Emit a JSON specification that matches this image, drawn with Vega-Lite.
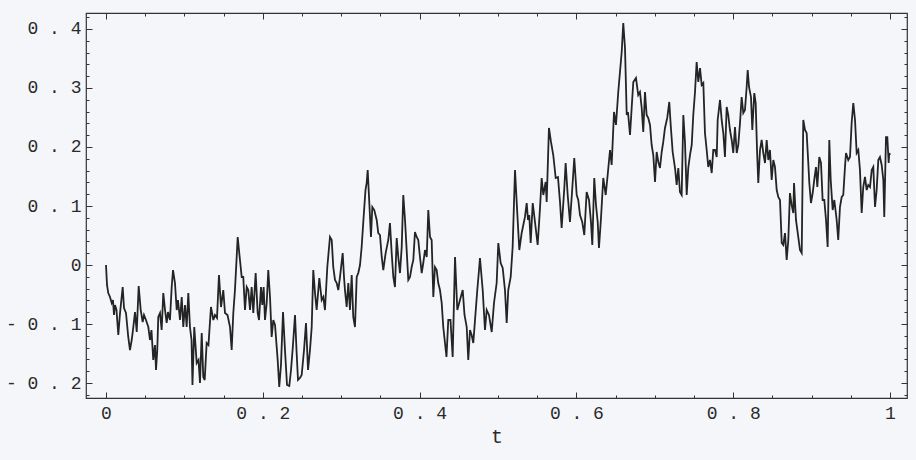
{
  "$schema": "https://vega.github.io/schema/vega-lite/v6.json",
  "width": 821,
  "height": 385,
  "autosize": {"type": "none"},
  "padding": {"left": 86, "top": 13, "right": 9, "bottom": 62},
  "background": "#f4f6f9",
  "config": {"view": {"stroke": "#333333", "strokeWidth": 1.2}, "axis": {"domain": false, "grid": false, "tickColor": "#333333", "tickWidth": 1, "labelFlush": false, "labelOverlap": false}},
  "data": {"values": [
{"t":0,"v":0},{"t":0.0013,"v":-0.0339},{"t":0.0029,"v":-0.0475},{"t":0.0051,"v":-0.0542},{"t":0.0073,"v":-0.0644},{"t":0.0089,"v":-0.0593},{"t":0.0102,"v":-0.0847},{"t":0.0115,"v":-0.0678},{"t":0.0134,"v":-0.0763},{"t":0.0157,"v":-0.1186},{"t":0.0179,"v":-0.0814},{"t":0.0213,"v":-0.0373},{"t":0.023,"v":-0.0729},{"t":0.0255,"v":-0.0814},{"t":0.0284,"v":-0.122},{"t":0.0306,"v":-0.1441},{"t":0.0328,"v":-0.1271},{"t":0.0344,"v":-0.1102},{"t":0.037,"v":-0.0797},{"t":0.0392,"v":-0.1136},{"t":0.0417,"v":-0.0356},{"t":0.0443,"v":-0.0763},{"t":0.0468,"v":-0.0966},{"t":0.0485,"v":-0.0847},{"t":0.051,"v":-0.0932},{"t":0.054,"v":-0.1051},{"t":0.0561,"v":-0.1271},{"t":0.058,"v":-0.1102},{"t":0.0603,"v":-0.161},{"t":0.0625,"v":-0.1356},{"t":0.0638,"v":-0.178},{"t":0.0654,"v":-0.1441},{"t":0.0667,"v":-0.0881},{"t":0.0689,"v":-0.0814},{"t":0.071,"v":-0.1102},{"t":0.0731,"v":-0.0475},{"t":0.0753,"v":-0.0763},{"t":0.0774,"v":-0.0983},{"t":0.0791,"v":-0.0797},{"t":0.0816,"v":-0.0932},{"t":0.0838,"v":-0.0373},{"t":0.0855,"v":-0.0085},{"t":0.088,"v":-0.0305},{"t":0.0902,"v":-0.0763},{"t":0.0918,"v":-0.0593},{"t":0.0944,"v":-0.0932},{"t":0.0966,"v":-0.0542},{"t":0.0986,"v":-0.1051},{"t":0.1008,"v":-0.0678},{"t":0.1029,"v":-0.1051},{"t":0.105,"v":-0.0475},{"t":0.1071,"v":-0.1051},{"t":0.1091,"v":-0.1271},{"t":0.1103,"v":-0.2034},{"t":0.1126,"v":-0.1051},{"t":0.1157,"v":-0.1661},{"t":0.118,"v":-0.161},{"t":0.1199,"v":-0.2},{"t":0.1221,"v":-0.1153},{"t":0.1241,"v":-0.1898},{"t":0.1259,"v":-0.1949},{"t":0.1284,"v":-0.1322},{"t":0.1307,"v":-0.1356},{"t":0.1339,"v":-0.0712},{"t":0.1369,"v":-0.0932},{"t":0.139,"v":-0.0847},{"t":0.1416,"v":-0.0898},{"t":0.1441,"v":-0.0169},{"t":0.1467,"v":-0.0712},{"t":0.1496,"v":-0.0424},{"t":0.1518,"v":-0.0814},{"t":0.155,"v":-0.0847},{"t":0.1582,"v":-0.1051},{"t":0.1603,"v":-0.1441},{"t":0.1624,"v":-0.0814},{"t":0.1645,"v":-0.0424},{"t":0.1665,"v":0.0085},{"t":0.168,"v":0.0475},{"t":0.1696,"v":0.0254},{"t":0.1709,"v":0.0085},{"t":0.1731,"v":-0.0203},{"t":0.1751,"v":-0.0203},{"t":0.1773,"v":-0.0763},{"t":0.1795,"v":-0.0373},{"t":0.1815,"v":-0.0424},{"t":0.1837,"v":-0.0763},{"t":0.1858,"v":-0.0373},{"t":0.1879,"v":-0.0814},{"t":0.1909,"v":-0.0136},{"t":0.1935,"v":-0.0814},{"t":0.1952,"v":-0.0932},{"t":0.1977,"v":-0.0373},{"t":0.1994,"v":-0.0678},{"t":0.2011,"v":-0.0373},{"t":0.2028,"v":-0.0932},{"t":0.205,"v":-0.0644},{"t":0.207,"v":-0.0085},{"t":0.2092,"v":-0.0542},{"t":0.2113,"v":-0.122},{"t":0.2134,"v":-0.0932},{"t":0.2156,"v":-0.1017},{"t":0.219,"v":-0.161},{"t":0.221,"v":-0.2068},{"t":0.2232,"v":-0.1695},{"t":0.2258,"v":-0.0797},{"t":0.2283,"v":-0.1441},{"t":0.2309,"v":-0.2034},{"t":0.2338,"v":-0.2051},{"t":0.236,"v":-0.178},{"t":0.2385,"v":-0.1356},{"t":0.2411,"v":-0.0847},{"t":0.243,"v":-0.1441},{"t":0.2449,"v":-0.1949},{"t":0.2474,"v":-0.1915},{"t":0.2496,"v":-0.1864},{"t":0.2526,"v":-0.1441},{"t":0.2551,"v":-0.0983},{"t":0.2577,"v":-0.178},{"t":0.2602,"v":-0.1441},{"t":0.2624,"v":-0.1051},{"t":0.2644,"v":-0.0085},{"t":0.2666,"v":-0.0475},{"t":0.2687,"v":-0.0763},{"t":0.2721,"v":-0.022},{"t":0.2751,"v":-0.0593},{"t":0.2772,"v":-0.0542},{"t":0.2793,"v":-0.0763},{"t":0.2823,"v":-0.0034},{"t":0.2857,"v":0.0475},{"t":0.2879,"v":0.0424},{"t":0.2899,"v":-0.0034},{"t":0.2921,"v":-0.0254},{"t":0.2943,"v":-0.0305},{"t":0.2963,"v":-0.0424},{"t":0.2985,"v":-0.0203},{"t":0.3019,"v":0.0203},{"t":0.3036,"v":-0.0203},{"t":0.3048,"v":-0.0424},{"t":0.307,"v":-0.0712},{"t":0.3091,"v":-0.0305},{"t":0.3112,"v":-0.0763},{"t":0.3134,"v":-0.0169},{"t":0.3154,"v":-0.0881},{"t":0.3176,"v":-0.1051},{"t":0.3198,"v":-0.0203},{"t":0.3218,"v":-0.0136},{"t":0.324,"v":0},{"t":0.3261,"v":0.0305},{"t":0.3282,"v":0.0729},{"t":0.3295,"v":0.0983},{"t":0.331,"v":0.1271},{"t":0.3325,"v":0.139},{"t":0.3338,"v":0.161},{"t":0.3355,"v":0.1153},{"t":0.338,"v":0.0475},{"t":0.3397,"v":0.0983},{"t":0.3422,"v":0.0932},{"t":0.3453,"v":0.0763},{"t":0.3473,"v":0.0542},{"t":0.3495,"v":0.0508},{"t":0.3517,"v":0.0136},{"t":0.3537,"v":-0.0085},{"t":0.3567,"v":0.0203},{"t":0.3601,"v":0.0424},{"t":0.3622,"v":0.0712},{"t":0.3644,"v":0.0203},{"t":0.3665,"v":-0.0203},{"t":0.3686,"v":-0.0373},{"t":0.3708,"v":0.0458},{"t":0.3728,"v":0.0136},{"t":0.375,"v":-0.0136},{"t":0.3772,"v":0.0305},{"t":0.3792,"v":0.1186},{"t":0.3814,"v":0.0763},{"t":0.3835,"v":0.0254},{"t":0.3856,"v":-0.0254},{"t":0.3878,"v":-0.0203},{"t":0.3899,"v":-0.0034},{"t":0.392,"v":0.0085},{"t":0.3941,"v":0.0559},{"t":0.3963,"v":0.0475},{"t":0.3983,"v":0.0424},{"t":0.4005,"v":0.0136},{"t":0.4027,"v":-0.0136},{"t":0.4047,"v":0.0034},{"t":0.4069,"v":0.0254},{"t":0.4091,"v":0.0136},{"t":0.4111,"v":0.0932},{"t":0.4133,"v":0.0475},{"t":0.4154,"v":0.0424},{"t":0.4175,"v":-0.0542},{"t":0.4196,"v":-0.0034},{"t":0.4218,"v":-0.0085},{"t":0.4238,"v":-0.0305},{"t":0.426,"v":-0.0424},{"t":0.4282,"v":-0.0644},{"t":0.4302,"v":-0.1051},{"t":0.4324,"v":-0.1322},{"t":0.4343,"v":-0.1559},{"t":0.4366,"v":-0.0932},{"t":0.4394,"v":-0.0932},{"t":0.4422,"v":-0.1559},{"t":0.4452,"v":0.0136},{"t":0.4481,"v":-0.0763},{"t":0.4515,"v":-0.0593},{"t":0.455,"v":-0.0424},{"t":0.4573,"v":-0.0847},{"t":0.4601,"v":-0.1051},{"t":0.4621,"v":-0.161},{"t":0.4643,"v":-0.1102},{"t":0.4664,"v":-0.1186},{"t":0.4685,"v":-0.1322},{"t":0.4707,"v":-0.0932},{"t":0.4736,"v":-0.0424},{"t":0.4758,"v":-0.0085},{"t":0.477,"v":0.0119},{"t":0.4805,"v":-0.0424},{"t":0.4834,"v":-0.1102},{"t":0.4856,"v":-0.0763},{"t":0.4885,"v":-0.0847},{"t":0.492,"v":-0.1136},{"t":0.4949,"v":-0.0644},{"t":0.4983,"v":-0.0305},{"t":0.5004,"v":0.0373},{"t":0.5034,"v":0.0034},{"t":0.506,"v":-0.0051},{"t":0.5089,"v":-0.0424},{"t":0.5111,"v":-0.0983},{"t":0.5131,"v":-0.0424},{"t":0.5162,"v":-0.0203},{"t":0.5187,"v":0.0305},{"t":0.5217,"v":0.161},{"t":0.5246,"v":0.0881},{"t":0.5272,"v":0.0254},{"t":0.5302,"v":0.0542},{"t":0.5323,"v":0.0678},{"t":0.5344,"v":0.0814},{"t":0.5366,"v":0.1051},{"t":0.5383,"v":0.0763},{"t":0.5399,"v":0.0847},{"t":0.5417,"v":0.0373},{"t":0.5443,"v":0.1051},{"t":0.5472,"v":0.0729},{"t":0.5506,"v":0.0339},{"t":0.5536,"v":0.0966},{"t":0.5557,"v":0.1475},{"t":0.5578,"v":0.1186},{"t":0.5608,"v":0.1407},{"t":0.5621,"v":0.1068},{"t":0.565,"v":0.2322},{"t":0.5676,"v":0.2085},{"t":0.5705,"v":0.1864},{"t":0.5736,"v":0.1475},{"t":0.5765,"v":0.1492},{"t":0.5791,"v":0.1068},{"t":0.5812,"v":0.0627},{"t":0.5846,"v":0.1305},{"t":0.5863,"v":0.1729},{"t":0.5889,"v":0.1186},{"t":0.5918,"v":0.0729},{"t":0.5948,"v":0.1305},{"t":0.5973,"v":0.1814},{"t":0.6004,"v":0.1186},{"t":0.6024,"v":0.1102},{"t":0.6046,"v":0.0847},{"t":0.6075,"v":0.0729},{"t":0.6101,"v":0.0508},{"t":0.6131,"v":0.1237},{"t":0.6161,"v":0.1102},{"t":0.6186,"v":0.0729},{"t":0.6203,"v":0.0339},{"t":0.6228,"v":0.1475},{"t":0.625,"v":0.1017},{"t":0.6272,"v":0.0729},{"t":0.6288,"v":0.0288},{"t":0.6314,"v":0.0797},{"t":0.6343,"v":0.1475},{"t":0.6374,"v":0.1186},{"t":0.6399,"v":0.1525},{"t":0.6429,"v":0.1949},{"t":0.645,"v":0.1695},{"t":0.6467,"v":0.2203},{"t":0.648,"v":0.2593},{"t":0.6505,"v":0.2373},{"t":0.6534,"v":0.2932},{"t":0.6556,"v":0.3271},{"t":0.6578,"v":0.361},{"t":0.6598,"v":0.4102},{"t":0.662,"v":0.3678},{"t":0.6642,"v":0.2542},{"t":0.6658,"v":0.2593},{"t":0.6684,"v":0.2203},{"t":0.6705,"v":0.2661},{"t":0.6726,"v":0.3102},{"t":0.676,"v":0.3169},{"t":0.6789,"v":0.2881},{"t":0.6811,"v":0.2932},{"t":0.6833,"v":0.2661},{"t":0.6853,"v":0.2254},{"t":0.6875,"v":0.2932},{"t":0.6896,"v":0.2542},{"t":0.6917,"v":0.2492},{"t":0.6939,"v":0.2373},{"t":0.696,"v":0.2034},{"t":0.6981,"v":0.1864},{"t":0.7003,"v":0.1407},{"t":0.7024,"v":0.1915},{"t":0.7045,"v":0.1746},{"t":0.7066,"v":0.1644},{"t":0.7088,"v":0.1915},{"t":0.7108,"v":0.2085},{"t":0.713,"v":0.2322},{"t":0.7159,"v":0.2492},{"t":0.7185,"v":0.2763},{"t":0.7203,"v":0.2373},{"t":0.7228,"v":0.1915},{"t":0.7258,"v":0.1644},{"t":0.7279,"v":0.1356},{"t":0.73,"v":0.1644},{"t":0.7321,"v":0.1237},{"t":0.7343,"v":0.1186},{"t":0.7364,"v":0.2542},{"t":0.7385,"v":0.2085},{"t":0.7407,"v":0.1186},{"t":0.7427,"v":0.1644},{"t":0.7449,"v":0.1864},{"t":0.7471,"v":0.2034},{"t":0.7491,"v":0.2542},{"t":0.7513,"v":0.2932},{"t":0.7534,"v":0.3441},{"t":0.7555,"v":0.3102},{"t":0.7577,"v":0.3339},{"t":0.7598,"v":0.3051},{"t":0.7619,"v":0.3085},{"t":0.764,"v":0.2237},{"t":0.7662,"v":0.1949},{"t":0.7682,"v":0.1661},{"t":0.7704,"v":0.178},{"t":0.7726,"v":0.1559},{"t":0.7746,"v":0.1949},{"t":0.7768,"v":0.1949},{"t":0.779,"v":0.1831},{"t":0.7802,"v":0.2458},{"t":0.7832,"v":0.2797},{"t":0.7853,"v":0.2458},{"t":0.7874,"v":0.2237},{"t":0.7895,"v":0.1831},{"t":0.7917,"v":0.2678},{"t":0.7937,"v":0.2542},{"t":0.7959,"v":0.2288},{"t":0.7981,"v":0.2119},{"t":0.8001,"v":0.1898},{"t":0.8023,"v":0.2339},{"t":0.8045,"v":0.1898},{"t":0.8065,"v":0.2034},{"t":0.8087,"v":0.2407},{"t":0.8108,"v":0.2847},{"t":0.8129,"v":0.2576},{"t":0.815,"v":0.2627},{"t":0.8172,"v":0.3017},{"t":0.8185,"v":0.3305},{"t":0.8202,"v":0.3017},{"t":0.8227,"v":0.2847},{"t":0.8244,"v":0.2288},{"t":0.8269,"v":0.2915},{"t":0.8287,"v":0.2746},{"t":0.8304,"v":0.1949},{"t":0.832,"v":0.139},{"t":0.8342,"v":0.1949},{"t":0.8363,"v":0.2119},{"t":0.8384,"v":0.1898},{"t":0.8406,"v":0.1729},{"t":0.8427,"v":0.2119},{"t":0.8448,"v":0.178},{"t":0.8469,"v":0.1949},{"t":0.8491,"v":0.1441},{"t":0.8512,"v":0.178},{"t":0.8533,"v":0.1661},{"t":0.8555,"v":0.1271},{"t":0.8575,"v":0.1153},{"t":0.8597,"v":0.1102},{"t":0.8619,"v":0.0373},{"t":0.8639,"v":0.0339},{"t":0.8661,"v":0.0542},{"t":0.8682,"v":0.0085},{"t":0.8703,"v":0.0424},{"t":0.8724,"v":0.122},{"t":0.8746,"v":0.1017},{"t":0.8767,"v":0.0881},{"t":0.8776,"v":0.139},{"t":0.8801,"v":0.0763},{"t":0.883,"v":0.0475},{"t":0.8852,"v":0.0254},{"t":0.8874,"v":0.0203},{"t":0.8894,"v":0.2458},{"t":0.8916,"v":0.2288},{"t":0.8937,"v":0.2237},{"t":0.8958,"v":0.1729},{"t":0.8971,"v":0.139},{"t":0.8992,"v":0.1051},{"t":0.9014,"v":0.122},{"t":0.9034,"v":0.1441},{"t":0.9056,"v":0.1661},{"t":0.9073,"v":0.1322},{"t":0.9098,"v":0.1831},{"t":0.912,"v":0.1729},{"t":0.9141,"v":0.1102},{"t":0.9162,"v":0.1102},{"t":0.9184,"v":0.0763},{"t":0.9205,"v":0.0305},{"t":0.9226,"v":0.2119},{"t":0.9244,"v":0.1441},{"t":0.9269,"v":0.0932},{"t":0.929,"v":0.1102},{"t":0.932,"v":0.0763},{"t":0.934,"v":0.0424},{"t":0.9362,"v":0.0983},{"t":0.9384,"v":0.1153},{"t":0.9404,"v":0.1186},{"t":0.9426,"v":0.1661},{"t":0.9439,"v":0.1898},{"t":0.9468,"v":0.178},{"t":0.949,"v":0.1831},{"t":0.9511,"v":0.2407},{"t":0.9532,"v":0.2746},{"t":0.9554,"v":0.2458},{"t":0.9575,"v":0.1898},{"t":0.9596,"v":0.1949},{"t":0.9617,"v":0.161},{"t":0.9639,"v":0.0881},{"t":0.9659,"v":0.1322},{"t":0.9681,"v":0.1492},{"t":0.9703,"v":0.1271},{"t":0.9723,"v":0.1356},{"t":0.9745,"v":0.1322},{"t":0.9767,"v":0.161},{"t":0.9787,"v":0.1661},{"t":0.9809,"v":0.0983},{"t":0.983,"v":0.1271},{"t":0.9851,"v":0.178},{"t":0.9872,"v":0.1831},{"t":0.9894,"v":0.1695},{"t":0.9915,"v":0.1441},{"t":0.9927,"v":0.0814},{"t":0.9949,"v":0.2169},{"t":0.9966,"v":0.2169},{"t":0.9983,"v":0.1729},{"t":0.9991,"v":0.1898},{"t":1,"v":0.1864}
  ]},
  "layer": [
    {
      "mark": {"type": "line", "color": "#242424", "strokeWidth": 1.8, "strokeJoin": "miter"},
      "encoding": {
        "x": {"field": "t", "type": "quantitative",
          "scale": {"domain": [-0.0255, 1.0217], "nice": false, "zero": false},
          "axis": {"orient": "bottom", "title": "t",
            "values": [0,0.2,0.4,0.6,0.8,1], "tickSize": -6,
            "labelExpr": "join(split(toString(round(datum.value*10)/10), ''), ' ')",
            "labelFont": "Courier New, Liberation Mono, DejaVu Sans Mono, monospace", "labelFontSize": 18, "labelColor": "#2a2a2a", "labelPadding": 12,
            "titleFont": "Courier New, Liberation Mono, DejaVu Sans Mono, monospace", "titleFontSize": 20, "titleFontWeight": "normal", "titleColor": "#2a2a2a", "titlePadding": 4}},
        "y": {"field": "v", "type": "quantitative",
          "scale": {"domain": [-0.2254, 0.4271], "nice": false, "zero": false},
          "axis": {"orient": "left", "title": null,
            "values": [-0.2,-0.1,0,0.1,0.2,0.3,0.4], "tickSize": -6,
            "labelExpr": "join(split(toString(round(datum.value*10)/10), ''), ' ')",
            "labelFont": "Courier New, Liberation Mono, DejaVu Sans Mono, monospace", "labelFontSize": 18, "labelColor": "#2a2a2a", "labelPadding": 11}}
      }
    },
    {
      "mark": {"type": "line", "strokeOpacity": 0},
      "encoding": {
        "x": {"field": "t", "type": "quantitative",
          "axis": {"orient": "top", "title": null, "labels": false, "values": [0,0.2,0.4,0.6,0.8,1], "tickSize": -6}},
        "y": {"field": "v", "type": "quantitative",
          "axis": {"orient": "right", "title": null, "labels": false, "values": [-0.2,-0.1,0,0.1,0.2,0.3,0.4], "tickSize": -6}}
      }
    },
    {
      "mark": {"type": "line", "strokeOpacity": 0},
      "encoding": {
        "x": {"field": "t", "type": "quantitative",
          "axis": {"orient": "bottom", "title": null, "labels": false, "values": [0.05,0.1,0.15,0.25,0.3,0.35,0.45,0.5,0.55,0.65,0.7,0.75,0.85,0.9,0.95], "tickSize": -3}},
        "y": {"field": "v", "type": "quantitative",
          "axis": {"orient": "left", "title": null, "labels": false, "values": [-0.22,-0.18,-0.16,-0.14,-0.12,-0.08,-0.06,-0.04,-0.02,0.02,0.04,0.06,0.08,0.12,0.14,0.16,0.18,0.22,0.24,0.26,0.28,0.32,0.34,0.36,0.38,0.42], "tickSize": -3}}
      }
    },
    {
      "mark": {"type": "line", "strokeOpacity": 0},
      "encoding": {
        "x": {"field": "t", "type": "quantitative",
          "axis": {"orient": "top", "title": null, "labels": false, "values": [0.05,0.1,0.15,0.25,0.3,0.35,0.45,0.5,0.55,0.65,0.7,0.75,0.85,0.9,0.95], "tickSize": -3}},
        "y": {"field": "v", "type": "quantitative",
          "axis": {"orient": "right", "title": null, "labels": false, "values": [-0.22,-0.18,-0.16,-0.14,-0.12,-0.08,-0.06,-0.04,-0.02,0.02,0.04,0.06,0.08,0.12,0.14,0.16,0.18,0.22,0.24,0.26,0.28,0.32,0.34,0.36,0.38,0.42], "tickSize": -3}}
      }
    }
  ],
  "resolve": {"axis": {"x": "independent", "y": "independent"}}
}
